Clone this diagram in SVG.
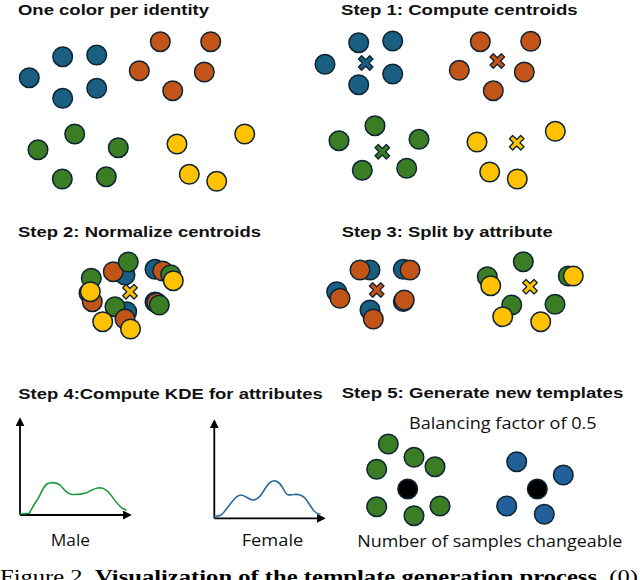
<svg xmlns="http://www.w3.org/2000/svg" xmlns:xlink="http://www.w3.org/1999/xlink" width="640" height="580" viewBox="0 0 640 580">
<defs>
<style>
.t{font-family:"Liberation Sans",Arial,sans-serif;font-weight:700;font-size:15.5px;fill:#111}
.l{font-family:"Open Sans","Liberation Sans",sans-serif;font-size:15.5px;fill:#111}
circle{stroke:#0e2433;stroke-width:1.5}
.b{fill:#1a5f82}.o{fill:#c25418}.g{fill:#3b7d24}.y{fill:#ffc100}.k{fill:#000}.b2{fill:#22609a}
.ax{stroke:#000;stroke-width:1.8;fill:none}
.kde{fill:none;stroke-width:1.6;stroke-linejoin:round;stroke-linecap:round}
</style>
<symbol id="x" overflow="visible"><polygon points="-2.3,-8 2.3,-8 2.3,-2.3 8,-2.3 8,2.3 2.3,2.3 2.3,8 -2.3,8 -2.3,2.3 -8,2.3 -8,-2.3 -2.3,-2.3" transform="rotate(45)" stroke="#0e2433" stroke-width="1.3" stroke-linejoin="round"/></symbol>
<marker id="ah" viewBox="0 0 10 10" refX="8" refY="5" markerWidth="5" markerHeight="5" orient="auto"><path d="M0,0 L10,5 L0,10 z" fill="#000"/></marker>
</defs>
<rect width="640" height="580" fill="#fff"/>

<g id="panel0">
<text class="t" x="18" y="14.5" textLength="191" lengthAdjust="spacingAndGlyphs">One color per identity</text>
<circle class="b" cx="62.7" cy="56.7" r="9.8"/><circle class="b" cx="96.7" cy="55" r="9.8"/><circle class="b" cx="29.3" cy="77.7" r="9.8"/><circle class="b" cx="96.7" cy="88.3" r="9.8"/><circle class="b" cx="62.7" cy="98.3" r="9.8"/>
<circle class="o" cx="160.3" cy="41.7" r="9.8"/><circle class="o" cx="210.7" cy="41.7" r="9.8"/><circle class="o" cx="139.3" cy="70.7" r="9.8"/><circle class="o" cx="204.3" cy="72" r="9.8"/><circle class="o" cx="172.7" cy="90.7" r="9.8"/>
<circle class="g" cx="74.7" cy="134" r="9.8"/><circle class="g" cx="38" cy="149.7" r="9.8"/><circle class="g" cx="118.3" cy="147.7" r="9.8"/><circle class="g" cx="62.3" cy="179" r="9.8"/><circle class="g" cx="106.3" cy="176.7" r="9.8"/>
<circle class="y" cx="244.7" cy="134" r="9.8"/><circle class="y" cx="177" cy="144" r="9.8"/><circle class="y" cx="189.3" cy="174.3" r="9.8"/><circle class="y" cx="216.7" cy="181.3" r="9.8"/>
</g>

<g id="step1">
<text class="t" x="341" y="14.5" textLength="236.7" lengthAdjust="spacingAndGlyphs">Step 1: Compute centroids</text>
<circle class="b" cx="358.7" cy="42.7" r="9.8"/><circle class="b" cx="392.7" cy="41" r="9.8"/><circle class="b" cx="325" cy="64.3" r="9.8"/><circle class="b" cx="392.7" cy="74" r="9.8"/><circle class="b" cx="358.7" cy="84.7" r="9.8"/>
<use xlink:href="#x" x="365.7" y="63" class="b"/>
<circle class="o" cx="480.3" cy="41.7" r="9.8"/><circle class="o" cx="530.7" cy="41.3" r="9.8"/><circle class="o" cx="459.3" cy="70.3" r="9.8"/><circle class="o" cx="524.3" cy="72" r="9.8"/><circle class="o" cx="493.3" cy="90.7" r="9.8"/>
<use xlink:href="#x" x="497.3" y="61" class="o"/>
<circle class="g" cx="375" cy="125.7" r="9.8"/><circle class="g" cx="339" cy="140.7" r="9.8"/><circle class="g" cx="419" cy="139.3" r="9.8"/><circle class="g" cx="362.3" cy="170.3" r="9.8"/><circle class="g" cx="406.7" cy="168.3" r="9.8"/>
<use xlink:href="#x" x="382.3" y="151.7" class="g"/>
<circle class="y" cx="555.3" cy="131.3" r="9.8"/><circle class="y" cx="477" cy="142" r="9.8"/><circle class="y" cx="489.7" cy="172" r="9.8"/><circle class="y" cx="517.3" cy="179" r="9.8"/>
<use xlink:href="#x" x="516.7" y="142.7" class="y"/>
</g>

<g id="step2">
<text class="t" x="18" y="237" textLength="243" lengthAdjust="spacingAndGlyphs">Step 2: Normalize centroids</text>
<circle class="b" cx="89" cy="293" r="9.8"/>
<circle class="o" cx="92.3" cy="301.7" r="9.8"/>
<circle class="g" cx="91.3" cy="278.3" r="9.8"/>
<circle class="y" cx="90.3" cy="291.7" r="9.8"/>
<circle class="b" cx="125" cy="275" r="9.8"/>
<circle class="o" cx="113.3" cy="271.7" r="9.8"/>
<circle class="g" cx="128.3" cy="262" r="9.8"/>
<circle class="b" cx="155" cy="269.3" r="9.8"/>
<circle class="o" cx="162.7" cy="271" r="9.8"/>
<circle class="g" cx="170.7" cy="274.7" r="9.8"/>
<circle class="y" cx="173.3" cy="280.7" r="9.8"/>
<use xlink:href="#x" x="130" y="291.7" class="y"/>
<circle class="b" cx="155" cy="302" r="9.8"/>
<circle class="o" cx="156.7" cy="302.7" r="9.8"/>
<circle class="g" cx="159.3" cy="305" r="9.8"/>
<circle class="b" cx="126.7" cy="311.7" r="9.8"/>
<circle class="g" cx="115" cy="306.7" r="9.8"/>
<circle class="o" cx="125" cy="319" r="9.8"/>
<circle class="y" cx="102.7" cy="321.7" r="9.8"/>
<circle class="y" cx="130.5" cy="329" r="9.8"/>
</g>

<g id="step3">
<text class="t" x="341.7" y="237.3" textLength="211" lengthAdjust="spacingAndGlyphs">Step 3: Split by attribute</text>
<circle class="b" cx="370" cy="270" r="9.8"/><circle class="o" cx="360" cy="270" r="9.8"/>
<circle class="b" cx="403.3" cy="269.3" r="9.8"/><circle class="o" cx="410" cy="270" r="9.8"/>
<circle class="b" cx="336.7" cy="291.7" r="9.8"/><circle class="o" cx="340" cy="298.3" r="9.8"/>
<use xlink:href="#x" x="376.7" y="290" class="o"/>
<circle class="b" cx="403.3" cy="301.5" r="9.8"/><circle class="o" cx="404.3" cy="300" r="9.8"/>
<circle class="b" cx="370" cy="310" r="9.8"/><circle class="o" cx="373.3" cy="319" r="9.8"/>
<circle class="g" cx="523.3" cy="261.7" r="9.8"/>
<circle class="g" cx="487.3" cy="276.7" r="9.8"/><circle class="y" cx="490.7" cy="285.7" r="9.8"/>
<circle class="g" cx="568.3" cy="276" r="9.8"/><circle class="y" cx="573.3" cy="276" r="9.8"/>
<use xlink:href="#x" x="530" y="286.7" class="y"/>
<circle class="g" cx="511.7" cy="305" r="9.8"/><circle class="y" cx="502.7" cy="316.7" r="9.8"/>
<circle class="g" cx="555" cy="304.3" r="9.8"/><circle class="y" cx="540.7" cy="321.7" r="9.8"/>
</g>

<g id="step4">
<text class="t" x="18.3" y="399.3" textLength="304.4" lengthAdjust="spacingAndGlyphs">Step 4:Compute KDE for attributes</text>
<path class="ax" d="M20,515 V419" marker-end="url(#ah)"/>
<path class="ax" d="M20,515 H130" marker-end="url(#ah)"/>
<path class="kde" stroke="#1f9a3a" d="M20,514 L29.3,513.3 C31,510 35,503 38.3,498.3 C41,493 43,487 47,484 C50,482 56,482 60,485 C63,488 66,493 70,494 C74,495 82,494 86.7,492.7 C90,491 94,488 100,487.7 C104,488 107,490 110,494 C114,499 118,505 122,508 L126,510"/>
<text class="l" x="50.7" y="546" textLength="39.3" lengthAdjust="spacingAndGlyphs">Male</text>
<path class="ax" d="M214.3,518.3 V421" marker-end="url(#ah)"/>
<path class="ax" d="M214.3,518.3 H324" marker-end="url(#ah)"/>
<path class="kde" stroke="#2e6a9e" d="M214.3,516.7 C217,516.5 219,516 221,515 C224,513 227,508 231,503 C234,499 237,495 241,495 C245,495 249,500 253,500 C257,500 260,497 263,492 C266,487 269,481 274,480.7 C279,480.5 282,486 285,492 C287,496 290,494.7 294,494.5 C299,494 302,495 305,498 C308,502 311,507 314,511 C316,513 318,514 320,514"/>
<text class="l" x="241.7" y="546" textLength="61.6" lengthAdjust="spacingAndGlyphs">Female</text>
</g>

<g id="step5">
<text class="t" x="341.7" y="397.7" textLength="281.6" lengthAdjust="spacingAndGlyphs">Step 5: Generate new templates</text>
<text class="l" x="409" y="429" textLength="187.7" lengthAdjust="spacingAndGlyphs">Balancing factor of 0.5</text>
<circle class="g" cx="388.3" cy="444" r="9.8"/><circle class="g" cx="414" cy="457.3" r="9.8"/><circle class="g" cx="435" cy="466.7" r="9.8"/><circle class="g" cx="376.7" cy="469.3" r="9.8"/><circle class="g" cx="376.7" cy="506.7" r="9.8"/><circle class="g" cx="414" cy="515.7" r="9.8"/><circle class="g" cx="440" cy="506" r="9.8"/>
<circle class="k" cx="407.7" cy="489" r="9.8"/>
<circle class="b2" cx="516.7" cy="461.7" r="9.8"/><circle class="b2" cx="563.3" cy="475" r="9.8"/><circle class="b2" cx="506.7" cy="506" r="9.8"/><circle class="b2" cx="544.3" cy="514.3" r="9.8"/>
<circle class="k" cx="537.3" cy="489" r="9.8"/>
<text class="l" x="357.3" y="546.7" textLength="265" lengthAdjust="spacingAndGlyphs">Number of samples changeable</text>
</g>

<g id="caption">
<text x="0" y="583" font-family="'Liberation Serif',serif" font-size="19" fill="#000" textLength="638" lengthAdjust="spacingAndGlyphs">Figure 2. <tspan font-weight="700">Visualization of the template generation process.</tspan> (0)</text>
</g>
</svg>
